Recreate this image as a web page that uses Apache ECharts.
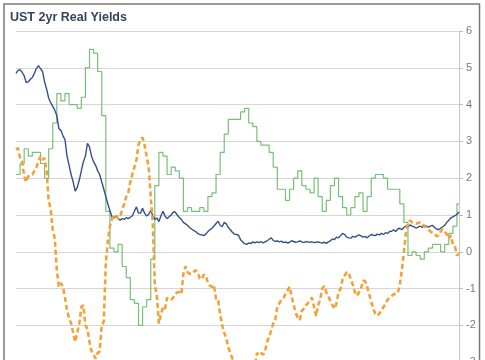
<!DOCTYPE html>
<html><head><meta charset="utf-8">
<script src="https://cdn.jsdelivr.net/npm/echarts@6/dist/echarts.min.js"></script>
<style>html,body{margin:0;padding:0;background:#fff}#c{width:485px;height:360px}</style>
</head><body><div id="c"></div>
<script>
// Half-monthly observation periods, Jan 2007 - Jan 2016
const firstYear = 2007, nPeriods = 218;
const tickLabels = ['6','5','4','3','2','1','0','-1','-2','-3','-4'];

// UST 2yr nominal yield (%), semi-monthly
const nominal2y = [
4.85,4.93,4.95,4.88,4.78,4.6,4.62,4.68,4.74,4.85,
4.98,5.06,4.98,4.9,4.62,4.42,4.18,4.05,3.95,3.85,
3.7,3.35,3.3,3.15,3.05,2.6,2.35,2.1,1.9,1.65,
1.75,1.95,2.2,2.45,2.6,2.95,2.85,2.6,2.45,2.35,
2.2,2.1,1.9,1.7,1.5,1.3,1.12,0.95,0.92,0.97,
0.9,0.86,0.9,0.88,0.93,0.9,0.94,0.98,1.1,1.22,
1.05,1.05,1.18,1.05,0.97,1.02,1.13,0.98,0.88,0.92,
0.82,0.98,1.1,0.97,0.9,0.95,1.0,1.08,1.08,1.0,
0.93,0.88,0.8,0.76,0.72,0.66,0.62,0.58,0.55,0.5,
0.47,0.46,0.44,0.48,0.55,0.6,0.64,0.7,0.77,0.83,
0.72,0.68,0.8,0.76,0.66,0.6,0.53,0.48,0.47,0.45,
0.33,0.27,0.22,0.2,0.24,0.22,0.27,0.24,0.27,0.25,
0.28,0.24,0.27,0.3,0.34,0.38,0.31,0.28,0.3,0.27,
0.29,0.25,0.27,0.24,0.26,0.3,0.28,0.26,0.27,0.3,
0.27,0.25,0.28,0.27,0.26,0.27,0.25,0.26,0.27,0.25,
0.24,0.26,0.23,0.27,0.3,0.35,0.33,0.4,0.38,0.44,
0.5,0.47,0.4,0.38,0.37,0.42,0.4,0.43,0.46,0.43,
0.4,0.42,0.38,0.43,0.47,0.45,0.44,0.48,0.46,0.5,
0.47,0.52,0.5,0.55,0.56,0.6,0.55,0.62,0.64,0.6,
0.66,0.7,0.68,0.73,0.7,0.68,0.64,0.67,0.7,0.66,
0.72,0.7,0.67,0.7,0.72,0.66,0.62,0.6,0.64,0.68,
0.72,0.8,0.86,0.92,0.95,0.98,1.02,1.08
];

// Real 2yr yield (%), semi-monthly
const real2y = [
2.78,2.82,2.55,2.45,2.05,1.9,2.05,2.1,2.1,2.2,
2.3,2.45,2.6,2.5,2.55,2.2,1.4,1.15,0.6,0.35,
-0.5,-0.95,-0.85,-0.95,-1.25,-1.6,-1.8,-1.95,-2.2,-2.45,
-2.2,-1.95,-1.5,-1.45,-2.0,-2.1,-2.45,-2.7,-2.8,-2.9,
-2.75,-2.7,-2.0,-1.9,-0.3,0.3,0.7,0.9,0.95,1.0,
0.9,0.95,1.15,1.3,1.5,1.6,1.9,2.1,2.3,2.5,
2.9,3.05,3.1,2.9,2.6,2.3,1.5,0.8,-0.9,-1.2,
-1.95,-1.7,-1.5,-1.55,-1.25,-1.3,-1.3,-1.25,-1.15,-1.1,
-1.1,-1.15,-0.6,-0.4,-0.55,-0.6,-0.6,-0.55,-0.5,-0.55,
-0.72,-0.75,-0.62,-0.65,-0.85,-0.92,-0.95,-0.9,-1.3,-1.3,
-1.7,-2.0,-2.2,-2.35,-2.6,-2.75,-2.9,-2.95,-3.1,-3.15,
-3.45,-3.5,-3.65,-3.7,-3.25,-3.3,-3.1,-3.15,-2.75,-2.8,
-2.75,-2.8,-2.7,-2.45,-2.3,-2.15,-1.95,-1.85,-1.5,-1.4,
-1.3,-1.25,-1.15,-1.05,-0.95,-1.2,-1.45,-1.65,-1.8,-1.85,
-1.6,-1.55,-1.45,-1.4,-1.3,-1.25,-1.5,-1.75,-1.45,-1.3,
-1.0,-0.93,-1.1,-1.2,-1.35,-1.45,-1.55,-1.4,-1.1,-1.0,
-0.75,-0.65,-0.55,-0.58,-0.75,-0.9,-1.1,-1.2,-1.1,-1.0,
-0.78,-0.8,-0.95,-1.15,-1.35,-1.55,-1.68,-1.74,-1.68,-1.6,
-1.5,-1.42,-1.3,-1.25,-1.2,-1.15,-1.15,-1.12,-0.9,-0.5,
0.0,0.5,0.78,0.85,0.8,0.78,0.76,0.78,0.8,0.74,
0.7,0.66,0.6,0.55,0.52,0.5,0.42,0.45,0.55,0.62,
0.55,0.48,0.36,0.45,0.2,0.15,-0.1,-0.05
];

// Inflation (% y/y), monthly
const inflationMonthly = [
2.1,2.4,2.8,2.6,2.7,2.7,2.4,2.0,2.8,3.5,4.3,4.1,
4.3,4.0,4.0,3.9,4.2,5.0,5.5,5.4,4.9,3.7,1.1,0.1,
0.0,0.2,-0.4,-0.7,-1.3,-1.4,-2.0,-1.5,-1.3,-0.2,1.8,2.7,
2.6,2.1,2.3,2.2,2.0,1.1,1.2,1.1,1.1,1.2,1.1,1.5,
1.6,2.1,2.7,3.2,3.6,3.6,3.6,3.8,3.9,3.5,3.4,3.0,
2.9,2.9,2.7,2.3,1.7,1.7,1.4,1.7,2.0,2.2,1.8,1.7,
1.6,2.0,1.5,1.1,1.4,1.8,2.0,1.5,1.2,1.0,1.2,1.5,
1.6,1.1,1.5,2.0,2.1,2.1,2.0,1.7,1.7,1.7,1.3,0.8,
-0.1,0.0,-0.1,-0.2,0.0,0.1,0.2,0.2,0.0,0.2,0.5,0.7,
1.3
];

const periods = [];
for (let y = firstYear; periods.length < nPeriods; y++) {
  for (let m = 1; m <= 12 && periods.length < nPeriods; m++) {
    const mm = String(m).padStart(2, '0');
    periods.push(y + '-' + mm + '-01', y + '-' + mm + '-16');
  }
}
// each monthly inflation print holds for both half-month periods
const inflation = inflationMonthly.flatMap(v => [v, v]).slice(0, nPeriods);

const chart = echarts.init(document.getElementById('c'), null, {renderer: 'canvas'});
chart.setOption({
  animation: false,
  backgroundColor: '#ffffff',
  title: {
    text: 'UST 2yr Real Yields',
    left: 10, top: 11, padding: 0,
    textStyle: {fontFamily: 'Liberation Sans, Arial, sans-serif', fontSize: 12.5, fontWeight: 'bold', color: '#34445c'}
  },
  graphic: [{
    type: 'rect', silent: true, z: 100,
    shape: {x: 4, y: 4, width: 475.5, height: 400},
    style: {fill: 'none', stroke: '#7a7a7a', lineWidth: 1.5}
  }],
  grid: {left: 16, right: 26, top: 31, height: 368, containLabel: false, outerBoundsMode: 'none'},
  xAxis: {
    type: 'category', data: periods, boundaryGap: false, show: false
  },
  yAxis: {
    type: 'value', position: 'right', min: -4, max: 6, interval: 1,
    axisLine: {show: true, lineStyle: {color: '#c8c8c8', width: 1}},
    axisTick: {show: true, length: 4, lineStyle: {color: '#bdbdbd'}},
    axisLabel: {
      margin: 7, color: '#7a7a7a', fontSize: 11, fontFamily: 'Liberation Sans, Arial, sans-serif',
      formatter: v => tickLabels[6 - v] !== undefined ? tickLabels[6 - v] : String(v)
    },
    splitLine: {show: true, lineStyle: {color: '#d6d6d6', width: 1}}
  },
  series: [
    {
      name: 'Inflation', type: 'line', data: inflation, step: 'end',
      showSymbol: false, symbol: 'none', z: 2,
      lineStyle: {color: '#78bf78', width: 1.2}
    },
    {
      name: 'UST 2yr', type: 'line', data: nominal2y,
      showSymbol: false, symbol: 'none', z: 3,
      lineStyle: {color: '#34508a', width: 1.4}
    },
    {
      name: 'Real 2yr', type: 'line', data: real2y,
      showSymbol: false, symbol: 'none', z: 4,
      lineStyle: {color: '#f2a23a', width: 2.6, type: [5, 3]}
    }
  ]
});
</script>
</body></html>
